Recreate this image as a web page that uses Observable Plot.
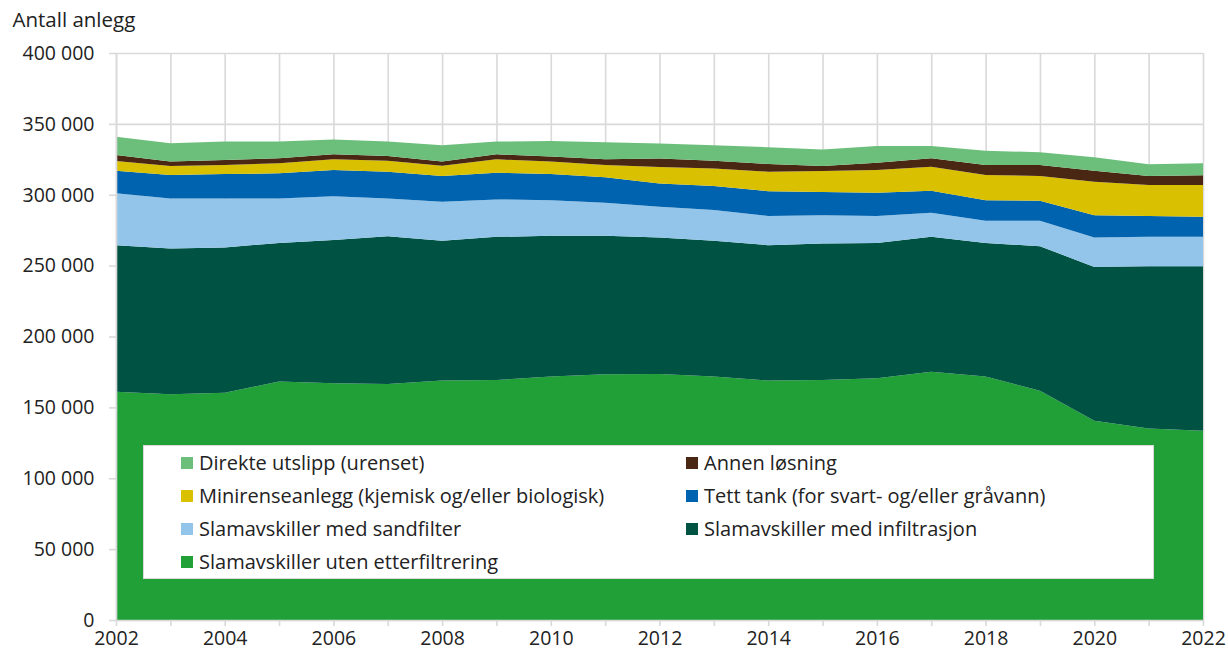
<!DOCTYPE html>
<html>
<head>
<meta charset="utf-8">
<script src="https://cdn.jsdelivr.net/npm/d3@7"></script>
<script src="https://cdn.jsdelivr.net/npm/@observablehq/plot@0.6"></script>
<style>
  html, body { margin: 0; padding: 0; background: #fff; }
  #wrap { position: relative; width: 1228px; height: 655px; font-family: "Open Sans", "Noto Sans", sans-serif; color: #222; }
  #legend { position: absolute; left: 143px; top: 445px; width: 1011px; height: 134px; background: #fff; border: 1px solid #d9d9d9;
            display: grid; grid-template-columns: 505px auto; grid-auto-rows: 33px; padding: 0 0 0 37px; box-sizing: border-box; }
  .item { display: flex; align-items: center; font-size: 20px; white-space: nowrap; }
  .sw { width: 12px; height: 12px; margin-right: 6px; flex: none; }
</style>
</head>
<body>
<div id="wrap"><div id="chart"></div><div id="legend"></div></div>
<script>
const years = [2002,2003,2004,2005,2006,2007,2008,2009,2010,2011,2012,2013,2014,2015,2016,2017,2018,2019,2020,2021,2022];

// bottom-to-top stacking order
const seriesNames = [
  "Slamavskiller uten etterfiltrering",
  "Slamavskiller med infiltrasjon",
  "Slamavskiller med sandfilter",
  "Tett tank (for svart- og/eller gråvann)",
  "Minirenseanlegg (kjemisk og/eller biologisk)",
  "Annen løsning",
  "Direkte utslipp (urenset)"
];
const seriesColors = ["#21a038", "#005343", "#93c5ea", "#0063af", "#d9c000", "#4a2713", "#6cbf7b"];

const utenEtterfiltrering = [161000,159200,160400,168200,167000,166500,168900,169300,171700,173400,173600,171700,168900,169300,170500,175200,171700,161800,140600,135100,133500];
const medInfiltrasjon     = [103400,102800,102400,97800,101000,104300,98600,101000,99300,97600,96200,95800,95500,96300,95500,95100,94300,101900,108500,114500,116100];
const medSandfilter       = [36600,35400,34600,31400,31000,26600,27500,26400,25200,23400,21700,21700,20600,20000,19000,17000,15600,17900,20700,20700,20700];
const tettTank            = [16000,16500,17200,17700,18500,18900,18200,18900,18400,17900,16500,16900,17500,16400,16400,15500,14600,14200,15800,14700,14100];
const minirenseanlegg     = [6800,6400,6400,7100,7500,7700,7200,9400,8800,8700,11500,12500,13800,14800,16100,17000,17800,17400,23600,21800,22400];
const annenLosning        = [4200,3100,3500,3500,3500,3400,3000,3500,3500,4000,6000,5400,5400,3500,5100,5900,7000,7800,7800,6400,6900];
const direkteUtslipp      = [13000,12900,13000,11800,10500,10100,11600,9000,11100,12000,10700,11000,11800,11700,11800,8700,10000,9000,9400,8300,8500];

const yTicks = [0,50000,100000,150000,200000,250000,300000,350000,400000];
const xLabelYears = [2002,2004,2006,2008,2010,2012,2014,2016,2018,2020,2022];
const yTitle = "Antall anlegg";

// legend order (row by row, two columns)
const legendOrder = [
  "Direkte utslipp (urenset)", "Annen løsning",
  "Minirenseanlegg (kjemisk og/eller biologisk)", "Tett tank (for svart- og/eller gråvann)",
  "Slamavskiller med sandfilter", "Slamavskiller med infiltrasjon",
  "Slamavskiller uten etterfiltrering"
];

const seriesValues = [utenEtterfiltrering, medInfiltrasjon, medSandfilter, tettTank, minirenseanlegg, annenLosning, direkteUtslipp];
const data = [];
seriesNames.forEach((s, i) => years.forEach((y, j) => data.push({year: y, series: s, value: seriesValues[i][j]})));

const fmt = d => d3.format(",")(d).replace(/,/g, " ");
const gridColor = "#d9d9d9";

const chart = Plot.plot({
  width: 1228,
  height: 655,
  marginLeft: 116,
  marginRight: 25,
  marginTop: 53,
  marginBottom: 35,
  style: {fontFamily: '"Open Sans", "Noto Sans", sans-serif', fontSize: "19px", color: "#222", background: "#fff"},
  x: {domain: [2002, 2022], label: null},
  y: {domain: [0, 400000], label: null},
  color: {domain: seriesNames, range: seriesColors},
  marks: [
    Plot.gridX(years, {stroke: gridColor, strokeOpacity: 1, strokeWidth: 1.6}),
    Plot.gridY(yTicks, {stroke: gridColor, strokeOpacity: 1, strokeWidth: 1.6}),
    Plot.areaY(data, {x: "year", y: "value", z: "series", fill: "series", order: seriesNames, curve: "linear"}),
    Plot.ruleX([2002], {stroke: gridColor, strokeWidth: 1.6}),
    Plot.ruleY([0], {stroke: gridColor, strokeWidth: 1.6}),
    Plot.axisY({ticks: yTicks, tickFormat: fmt, tickSize: 7, tickPadding: 15, stroke: gridColor, strokeWidth: 1.6, label: null, fontSize: 19.5}),
    Plot.axisX({ticks: years, tickFormat: d => (xLabelYears.includes(d) ? String(d) : ""), tickSize: 6, tickPadding: 5, stroke: gridColor, strokeWidth: 1.6, label: null, fontSize: 19.5}),
    Plot.text([yTitle], {frameAnchor: "top-left", text: d => d, dx: -104, dy: -27, textAnchor: "start", lineAnchor: "bottom", fontSize: 20.5, fill: "#222"})
  ]
});
document.getElementById("chart").appendChild(chart);

const legend = document.getElementById("legend");
legendOrder.forEach(name => {
  const idx = seriesNames.indexOf(name);
  const item = document.createElement("div");
  item.className = "item";
  const sw = document.createElement("span");
  sw.className = "sw";
  sw.style.background = seriesColors[idx];
  item.appendChild(sw);
  item.appendChild(document.createTextNode(name));
  legend.appendChild(item);
});
</script>
</body>
</html>
